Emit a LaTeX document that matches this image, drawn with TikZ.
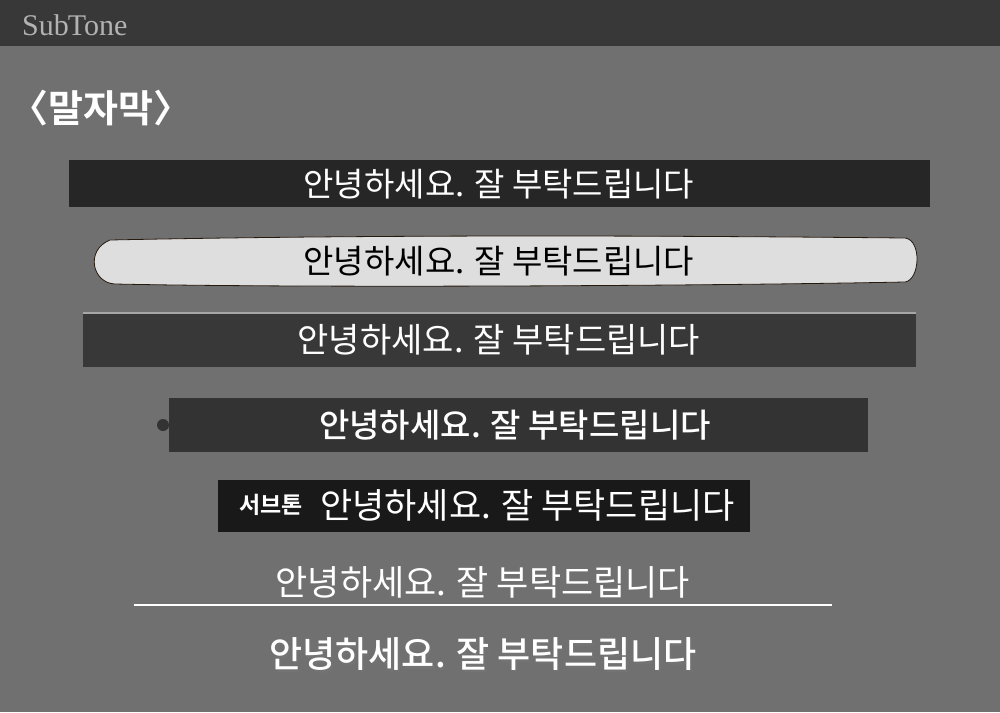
\documentclass[tikz,border=0pt]{standalone}
\usepackage{fontspec}
\setmainfont{Liberation Serif}
\newfontfamily\kr{Noto Sans CJK KR}
\newfontfamily\krb{Noto Sans CJK KR Bold}
\newfontfamily\krm{Noto Sans CJK KR Medium}
\definecolor{bg}{HTML}{707070}
\definecolor{head}{HTML}{383838}
\begin{document}
\begin{tikzpicture}[x=1pt,y=-1pt,
  sub/.style={white,font=\kr\fontsize{#1}{#1}\selectfont,inner sep=0pt},
  sub/.default=33]
\useasboundingbox (0,0) rectangle (1000,712);
\fill[bg] (0,0) rectangle (1000,712);
\fill[head] (0,0) rectangle (1000,46);
\node[anchor=west,inner sep=0pt,text=gray!60!white,font=\fontsize{30}{30}\selectfont] (logo) at (22,25) {Sub\kern-1pt Tone};
\node[anchor=west,inner sep=0pt,white,font=\krb\fontsize{38}{38}\selectfont] (title) at (10,108) {〈말자막〉};
\fill[black!85] (69,160) rectangle (930,207);
\node[sub] (one) at (499,184) {안녕하세요. 잘 부탁드립니다};
\draw[fill=black!13,draw=black!80!brown,thick] (110,240) .. controls (400,234) and (700,236) .. (905,238) .. controls (922,240) and (920,280) .. (905,282) .. controls (700,286) and (300,288) .. (115,284) .. controls (92,283) and (85,250) .. cycle;
\node[sub,black] (two) at (499,261) {안녕하세요. 잘 부탁드립니다};
\fill[black!78] (83,313) rectangle (916,367);
\draw[gray!70!white,line width=2pt] (83,313) -- (916,313);
\node[sub=34] (three) at (499,340) {안녕하세요. 잘 부탁드립니다};
\fill[black!80] (163,425) circle (6);
\fill[black!80] (169,398) rectangle (868,452);
\node[sub=33] (four) at (515,425) {\krm 안녕하세요. 잘 부탁드립니다};
\fill[black!90] (218,480) rectangle (750,532);
\node[white,inner sep=0pt,font=\krb\fontsize{23}{23}\selectfont] (tag) at (271,505) {서브톤};
\node[sub=35,anchor=west] (five) at (320,505) {안녕하세요. 잘 부탁드립니다};
\node[sub=35] (six) at (483,582) {안녕하세요. 잘 부탁드립니다};
\coordinate (lineL) at (134,605);
\coordinate (lineR) at (832,605);
\draw[white,line width=2pt] (lineL) -- (lineR);
\node[sub=36,black!55,xshift=2,yshift=-3] (shadow) at (483,654) {\krm 안녕하세요. 잘 부탁드립니다};
\node[sub=36] (seven) at (483,654) {\krm 안녕하세요. 잘 부탁드립니다};
\end{tikzpicture}
\end{document}
